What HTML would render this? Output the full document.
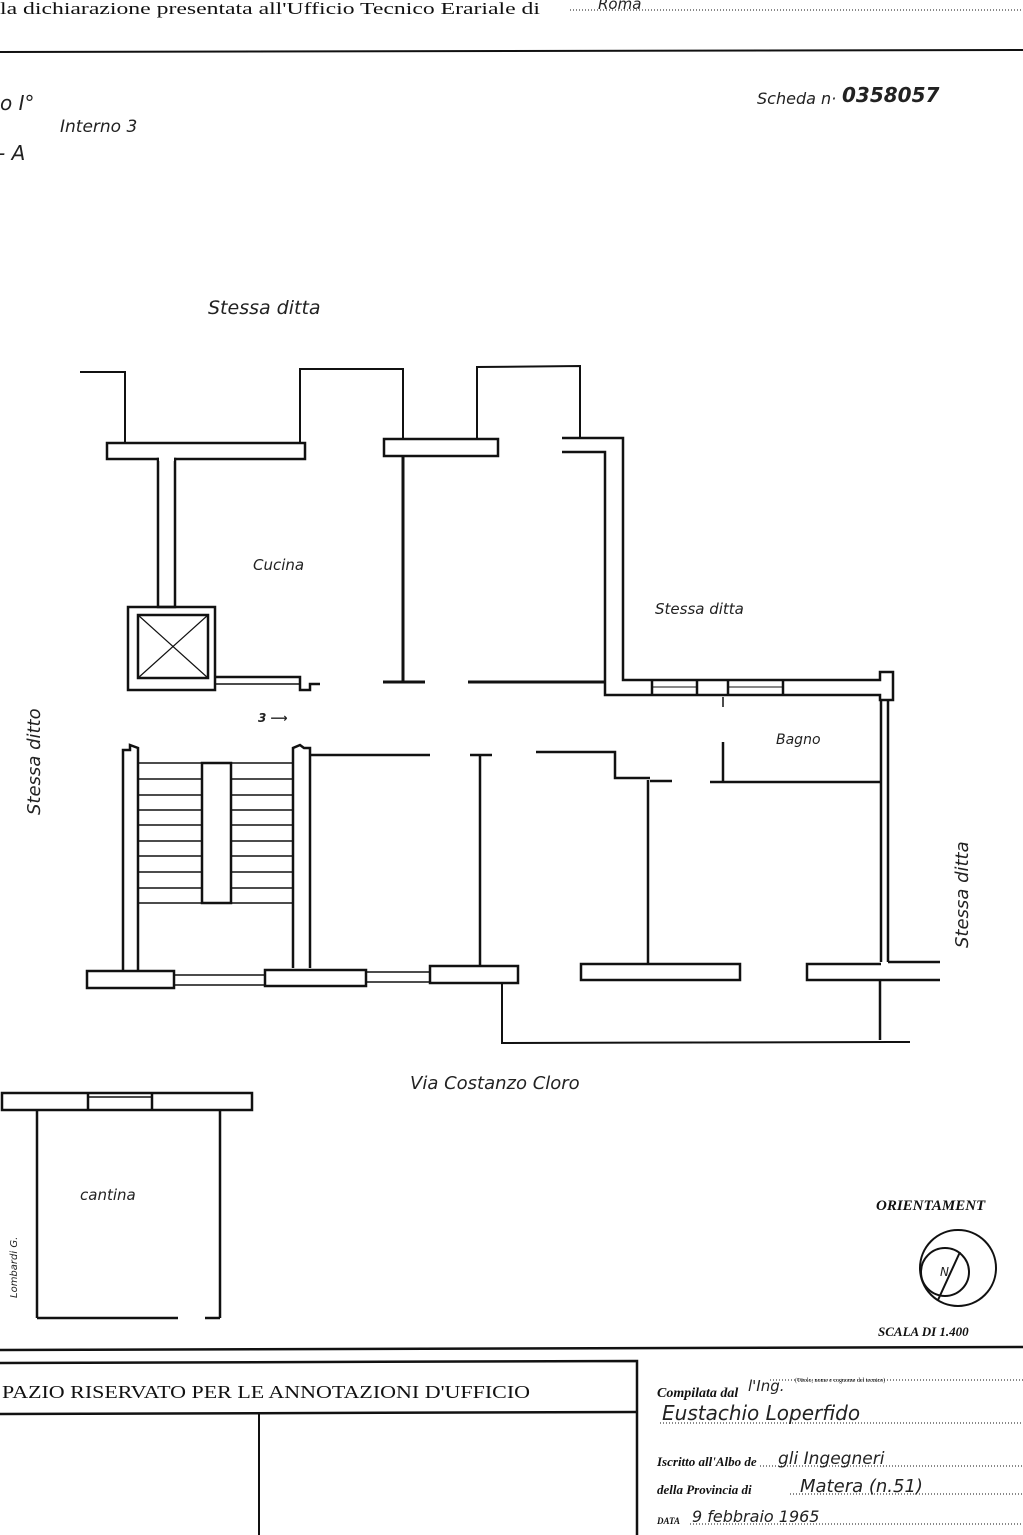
<!DOCTYPE html>
<html><head><meta charset="utf-8"><style>
html,body{margin:0;padding:0;background:#fff;}
svg{display:block}
.hw{font-family:"DejaVu Sans","Liberation Sans",sans-serif;font-style:italic;fill:#222;}
.pr{font-family:"Liberation Serif",serif;fill:#111;}
</style></head><body>
<svg width="1023" height="1535" viewBox="0 0 1023 1535" xmlns="http://www.w3.org/2000/svg">
<g stroke="#111" fill="none" stroke-width="2.5">
<line x1="0" y1="52" x2="1023" y2="50" stroke-width="2"/>
<line x1="570" y1="10" x2="1023" y2="10" stroke-width="1" stroke-dasharray="1,2"/>
<polyline points="80,372 125,372 125,443" stroke-width="2"/>
<polyline points="300,443 300,369 403,369 403,440" stroke-width="2"/>
<polyline points="477,440 477,367 580,366 580,438" stroke-width="2"/>
<rect x="107" y="443" width="198" height="16"/>
<rect x="158" y="459" width="17" height="148" fill="#fff"/>
<line x1="159" y1="459" x2="174" y2="459" stroke="#fff" stroke-width="4"/>
<rect x="384" y="439" width="114" height="17"/>
<polyline points="562,438 623,438 623,680 880,680 880,672 893,672 893,700 880,700 880,695 623,695 605,695 605,452 562,452 Z"/>
<line x1="652" y1="680" x2="652" y2="695"/><line x1="697" y1="680" x2="697" y2="695"/><line x1="728" y1="680" x2="728" y2="695"/><line x1="783" y1="680" x2="783" y2="695"/>
<line x1="652" y1="687" x2="697" y2="687" stroke-width="1"/><line x1="728" y1="687" x2="783" y2="687" stroke-width="1"/>
<line x1="403" y1="456" x2="403" y2="682" stroke-width="3"/>
<line x1="383" y1="682" x2="425" y2="682" stroke-width="3"/>
<line x1="468" y1="682" x2="605" y2="682" stroke-width="3"/>
<rect x="128" y="607" width="87" height="83"/>
<rect x="138" y="615" width="70" height="63"/>
<line x1="138" y1="615" x2="208" y2="678" stroke-width="1.2"/><line x1="208" y1="615" x2="138" y2="678" stroke-width="1.2"/>
<polyline points="215,677 300,677 300,690 310,690 310,684 320,684"/>
<line x1="215" y1="684" x2="300" y2="684" stroke-width="1.5"/>
<line x1="881" y1="700" x2="881" y2="962"/><line x1="888" y1="700" x2="888" y2="962"/>
<line x1="723" y1="742" x2="723" y2="782"/><line x1="710" y1="782" x2="882" y2="782"/>
<line x1="723" y1="697" x2="723" y2="707" stroke-width="1.5"/>
<line x1="310" y1="755" x2="430" y2="755"/>
<line x1="470" y1="755" x2="492" y2="755"/><line x1="480" y1="755" x2="480" y2="965"/>
<polyline points="536,752 615,752 615,778 650,778"/><line x1="650" y1="781" x2="672" y2="781"/>
<line x1="648" y1="780" x2="648" y2="965"/>
<polyline points="123,972 123,750 130,750 130,745 138,748 138,972"/>
<polyline points="293,968 293,748 300,745 304,748 310,748 310,968"/>
<g stroke-width="1.5">
<line x1="138" y1="763" x2="293" y2="763"/><line x1="138" y1="779" x2="293" y2="779"/><line x1="138" y1="795" x2="293" y2="795"/><line x1="138" y1="810" x2="293" y2="810"/><line x1="138" y1="825" x2="293" y2="825"/><line x1="138" y1="841" x2="293" y2="841"/><line x1="138" y1="856" x2="293" y2="856"/><line x1="138" y1="872" x2="293" y2="872"/><line x1="138" y1="888" x2="293" y2="888"/><line x1="138" y1="903" x2="293" y2="903"/>
</g>
<rect x="202" y="763" width="29" height="140" fill="#fff"/>
<rect x="87" y="971" width="87" height="17"/>
<line x1="174" y1="975" x2="265" y2="975" stroke-width="1.5"/><line x1="174" y1="985" x2="265" y2="985" stroke-width="1.5"/>
<rect x="265" y="970" width="101" height="16"/>
<line x1="366" y1="972" x2="430" y2="972" stroke-width="1.5"/><line x1="366" y1="982" x2="430" y2="982" stroke-width="1.5"/>
<rect x="430" y="966" width="88" height="17"/>
<rect x="581" y="964" width="159" height="16"/>
<polyline points="940,962 888,962" /><polyline points="940,980 807,980 807,964 881,964"/>
<line x1="880" y1="980" x2="880" y2="1040"/>
<polyline points="502,983 502,1043 910,1042" stroke-width="2"/>
<rect x="2" y="1093" width="250" height="17"/>
<line x1="88" y1="1097" x2="152" y2="1097" stroke-width="1.5"/><line x1="88" y1="1093" x2="88" y2="1110"/><line x1="152" y1="1093" x2="152" y2="1110"/>
<line x1="37" y1="1110" x2="37" y2="1318"/><line x1="220" y1="1110" x2="220" y2="1318"/>
<line x1="37" y1="1318" x2="178" y2="1318"/><line x1="205" y1="1318" x2="220" y2="1318"/>
<circle cx="958" cy="1268" r="38" stroke-width="2"/><circle cx="945" cy="1272" r="24" stroke-width="2"/>
<line x1="960" y1="1252" x2="938" y2="1300" stroke-width="2"/>
<line x1="0" y1="1350" x2="1023" y2="1347" stroke-width="2.5"/>
<polyline points="0,1363 637,1361 637,1535" stroke-width="2.5"/>
<line x1="0" y1="1414" x2="637" y2="1412" stroke-width="2.5"/>
<line x1="259" y1="1414" x2="259" y2="1535" stroke-width="2"/>
<g stroke-width="1" stroke-dasharray="1,2">
<line x1="770" y1="1380" x2="1023" y2="1380"/><line x1="660" y1="1423" x2="1023" y2="1423"/><line x1="760" y1="1466" x2="1023" y2="1466"/><line x1="790" y1="1494" x2="1023" y2="1494"/><line x1="690" y1="1524" x2="1023" y2="1524"/>
</g>
</g>
<text x="0" y="14" class="pr" font-size="17" textLength="540" lengthAdjust="spacingAndGlyphs">la dichiarazione presentata all'Ufficio Tecnico Erariale di</text>
<text x="598" y="9" class="hw" font-size="15">Roma</text>
<text x="0" y="110" class="hw" font-size="20" font-style="normal">o I°</text>
<text x="-2" y="160" class="hw" font-size="20" font-style="normal">- A</text>
<text x="60" y="132" class="hw" font-size="17">Interno 3</text>
<text x="757" y="104" class="hw" font-size="16" font-style="normal">Scheda n·</text>
<text x="842" y="102" class="hw" font-size="20" font-weight="bold" font-style="normal">0358057</text>
<text x="208" y="314" class="hw" font-size="19">Stessa ditta</text>
<text x="253" y="570" class="hw" font-size="15">Cucina</text>
<text x="655" y="614" class="hw" font-size="15" font-style="normal">Stessa ditta</text>
<text x="258" y="722" class="hw" font-size="12" font-weight="bold" font-style="normal">3 ⟶</text>
<text x="776" y="744" class="hw" font-size="14" font-style="normal">Bagno</text>
<text transform="translate(40,815) rotate(-90)" class="hw" font-size="18">Stessa ditto</text>
<text transform="translate(968,948) rotate(-90)" class="hw" font-size="18" font-style="normal">Stessa ditta</text>
<text x="410" y="1089" class="hw" font-size="18">Via Costanzo Cloro</text>
<text x="80" y="1200" class="hw" font-size="15">cantina</text>
<text transform="translate(17,1298) rotate(-90)" class="hw" font-size="10">Lombardi G.</text>
<text x="876" y="1210" class="pr" font-size="15" font-weight="bold" font-style="italic">ORIENTAMENT</text>
<text x="940" y="1276" class="hw" font-size="12" font-style="normal">N</text>
<text x="878" y="1336" class="pr" font-size="13" font-weight="bold" font-style="italic">SCALA DI 1.400</text>
<text x="2" y="1398" class="pr" font-size="18" textLength="528" lengthAdjust="spacingAndGlyphs">PAZIO RISERVATO PER LE ANNOTAZIONI D'UFFICIO</text>
<text x="657" y="1397" class="pr" font-size="14" font-style="italic" font-weight="bold">Compilata dal</text>
<text x="748" y="1391" class="hw" font-size="15">l'Ing.</text>
<text x="795" y="1382" class="pr" font-size="6">(Titolo, nome e cognome del tecnico)</text>
<text x="662" y="1420" class="hw" font-size="20">Eustachio Loperfido</text>
<text x="657" y="1466" class="pr" font-size="13" font-style="italic" font-weight="bold">Iscritto all'Albo de</text>
<text x="778" y="1464" class="hw" font-size="17">gli Ingegneri</text>
<text x="657" y="1494" class="pr" font-size="13" font-style="italic" font-weight="bold">della Provincia di</text>
<text x="800" y="1492" class="hw" font-size="18">Matera (n.51)</text>
<text x="657" y="1524" class="pr" font-size="9" font-style="italic" font-weight="bold">DATA</text>
<text x="692" y="1522" class="hw" font-size="16">9 febbraio 1965</text>
</svg>
</body></html>
